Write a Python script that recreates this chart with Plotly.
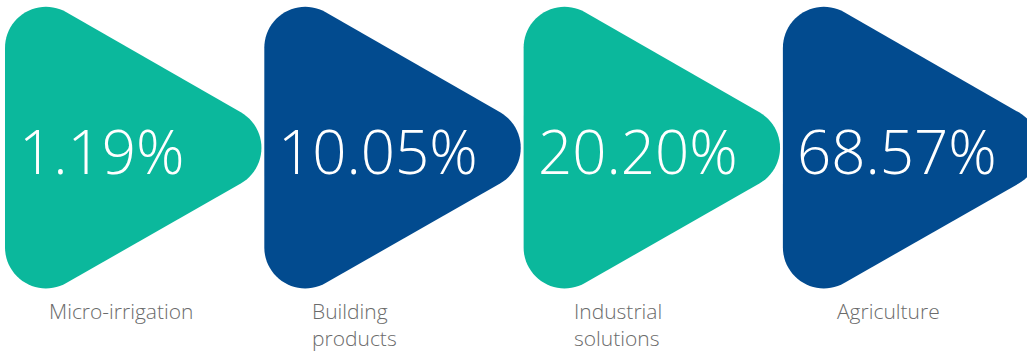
import math
import plotly.graph_objects as go

# Segment shares
segments = ["Micro-irrigation", "Building<br>products", "Industrial<br>solutions", "Agriculture"]
shares = [1.19, 10.05, 20.20, 68.57]
colors = ["#0bb89c", "#024b8f", "#0bb89c", "#024b8f"]

W, H = 1027, 351
STEP = 259.3          # horizontal pitch between arrows
LEFT0 = 5             # left edge of first arrow
TOP, BOT, MID = -23, 318, 148
DEPTH = 298           # distance from left edge to sharp tip
RADIUS = 41
LABEL_DX = [42, 46, 48, 52]


def rounded_polygon(pts, r, n=24):
    """Path string of a polygon whose corners are rounded with radius r."""
    out = []
    k = len(pts)
    for i in range(k):
        px, py = pts[i]
        ax, ay = pts[i - 1]
        bx, by = pts[(i + 1) % k]
        u1 = (ax - px, ay - py)
        u2 = (bx - px, by - py)
        l1 = math.hypot(*u1)
        l2 = math.hypot(*u2)
        u1 = (u1[0] / l1, u1[1] / l1)
        u2 = (u2[0] / l2, u2[1] / l2)
        ang = math.acos(max(-1, min(1, u1[0] * u2[0] + u1[1] * u2[1])))
        half = ang / 2
        bis = (u1[0] + u2[0], u1[1] + u2[1])
        lb = math.hypot(*bis)
        bis = (bis[0] / lb, bis[1] / lb)
        dc = r / math.sin(half)
        cx, cy = px + bis[0] * dc, py + bis[1] * dc
        t = r / math.tan(half)
        t1 = (px + u1[0] * t, py + u1[1] * t)
        t2 = (px + u2[0] * t, py + u2[1] * t)
        a1 = math.atan2(t1[1] - cy, t1[0] - cx)
        a2 = math.atan2(t2[1] - cy, t2[0] - cx)
        d = a2 - a1
        while d > math.pi:
            d -= 2 * math.pi
        while d < -math.pi:
            d += 2 * math.pi
        for j in range(n + 1):
            a = a1 + d * j / n
            out.append((cx + r * math.cos(a), cy + r * math.sin(a)))
    path = "M " + " L ".join(f"{x:.2f},{y:.2f}" for x, y in out) + " Z"
    return path


fig = go.Figure()
shapes = []
annotations = []
for i, (name, val, col) in enumerate(zip(segments, shares, colors)):
    x0 = LEFT0 + STEP * i
    tri = [(x0, TOP), (x0 + DEPTH, MID), (x0, BOT)]
    shapes.append(dict(type="path", path=rounded_polygon(tri, RADIUS),
                       fillcolor=col, line=dict(width=0), layer="below",
                       xref="x", yref="y"))
    annotations.append(dict(x=x0 + 12, y=151, xref="x", yref="y",
                            text=f"{val:.2f}%", showarrow=False,
                            xanchor="left", yanchor="middle",
                            font=dict(family="Open Sans", size=60, color="white",
                                      weight=300)))
    annotations.append(dict(x=x0 + LABEL_DX[i], y=295, xref="x", yref="y",
                            text=name, showarrow=False, align="left",
                            xanchor="left", yanchor="top",
                            font=dict(family="Open Sans", size=21, color="#6b6b6b",
                                      weight=300)))

fig.update_layout(
    width=W, height=H,
    margin=dict(l=0, r=0, t=0, b=0),
    paper_bgcolor="white", plot_bgcolor="white",
    xaxis=dict(range=[0, W], visible=False, fixedrange=True),
    yaxis=dict(range=[H, 0], visible=False, fixedrange=True),
    shapes=shapes, annotations=annotations, showlegend=False,
)
fig.write_html("out.html")
